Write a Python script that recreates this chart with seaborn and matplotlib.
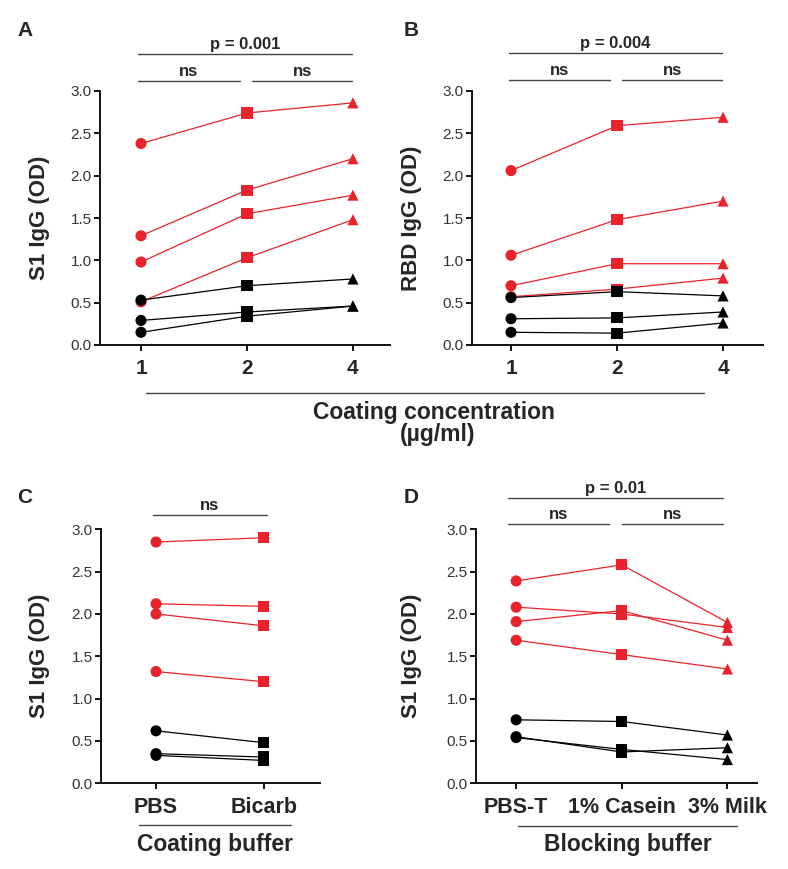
import matplotlib
matplotlib.use('Agg')
import matplotlib.pyplot as plt
from matplotlib.lines import Line2D
import pandas as pd
import seaborn as sns

# panel A: S1 IgG by coating concentration
conc = ['1', '2', '4']
a_red = [[2.38, 2.74, 2.86], [1.29, 1.83, 2.20], [0.98, 1.55, 1.77], [0.51, 1.03, 1.48]]
a_black = [[0.53, 0.70, 0.78], [0.29, 0.39, 0.46], [0.15, 0.34, 0.46]]

# panel B: RBD IgG by coating concentration
b_red = [[2.06, 2.59, 2.69], [1.06, 1.48, 1.70], [0.70, 0.96, 0.96], [0.57, 0.66, 0.79]]
b_black = [[0.56, 0.63, 0.58], [0.31, 0.32, 0.39], [0.15, 0.14, 0.26]]

# panel C: coating buffer
coat = ['PBS', 'Bicarb']
c_red = [[2.85, 2.90], [2.12, 2.09], [2.00, 1.86], [1.32, 1.20]]
c_black = [[0.62, 0.48], [0.35, 0.31], [0.33, 0.27]]

# panel D: blocking buffer
block = ['PBS-T', '1% Casein', '3% Milk']
d_red = [[2.39, 2.58, 1.90], [2.08, 2.00, 1.84], [1.91, 2.04, 1.69], [1.69, 1.52, 1.35]]
d_black = [[0.75, 0.73, 0.57], [0.54, 0.40, 0.28], [0.55, 0.37, 0.42]]

yticks = [0.0, 0.5, 1.0, 1.5, 2.0, 2.5, 3.0]
RED = '#e8232b'
BAR = '#444444'

sns.set_style('ticks')
plt.rcParams['font.family'] = ['Liberation Sans', 'DejaVu Sans']

W, H = 788, 869
fig = plt.figure(figsize=(W / 100, H / 100), dpi=100)


def rect(l, t, r, b):
    return [l / W, 1 - b / H, (r - l) / W, (b - t) / H]


def draw(ax, conds, red, black, markers, xlim, ylab, tick_fs, lab_x):
    for vals, color, tag in ((red, RED, 'pos'), (black, 'black', 'neg')):
        rows = [(f'{tag}{i}', j, c, v)
                for i, row in enumerate(vals)
                for j, (c, v) in enumerate(zip(conds, row))]
        df = pd.DataFrame(rows, columns=['subject', 'x', 'cond', 'od'])
        sns.lineplot(data=df, x='x', y='od', units='subject', estimator=None,
                     color=color, lw=0.9, legend=False, ax=ax)
        sns.scatterplot(data=df, x='x', y='od', style='cond',
                        markers=dict(zip(conds, markers)), color=color,
                        s=64, linewidth=0, legend=False, ax=ax, zorder=3)
    ax.set_xlim(*xlim)
    ax.set_ylim(0, 3.0)
    ax.set_yticks(yticks, [f'{t:.1f}' for t in yticks], fontsize=11, color='#333333')
    ax.set_xticks(range(len(conds)), conds, fontsize=tick_fs, fontweight='bold')
    ax.set_xlabel('')
    ax.set_ylabel(ylab, fontsize=16, fontweight='bold')
    ax.yaxis.set_label_coords(lab_x, 0.5)
    sns.despine(ax=ax)
    for s in ('left', 'bottom'):
        ax.spines[s].set_linewidth(1.4)
        ax.spines[s].set_color('#111111')
    ax.tick_params(axis='both', width=1.4, length=4, color='#111111')
    ax.tick_params(axis='x', pad=6)
    ax.tick_params(axis='y', pad=2)


def bracket(ax, x0, x1, yf, text):
    tr = ax.get_xaxis_transform()
    ax.plot([x0, x1], [yf, yf], transform=tr, color=BAR, lw=1.0, clip_on=False)
    ax.text((x0 + x1) / 2, yf + 0.008, text, transform=tr, ha='center', va='bottom',
            fontsize=12, fontweight='bold')


def group_label(ax, x0, x1, yf, text, ty):
    tr = ax.get_xaxis_transform()
    ax.plot([x0, x1], [yf, yf], transform=tr, color=BAR, lw=1.0, clip_on=False)
    ax.text((x0 + x1) / 2, ty, text, transform=tr, ha='center', va='center',
            fontsize=16.5, fontweight='bold')


mk3 = ['o', 's', '^']

axA = fig.add_axes(rect(100, 91, 390, 345))
draw(axA, conc, a_red, a_black, mk3, (-0.387, 2.35), 'S1 IgG (OD)', 15, -0.172)
bracket(axA, -0.03, 1.99, 1.146, 'p = 0.001')
bracket(axA, -0.03, 0.93, 1.039, 'ns')
bracket(axA, 1.05, 1.99, 1.039, 'ns')

axB = fig.add_axes(rect(472, 91, 763, 345))
draw(axB, conc, b_red, b_black, mk3, (-0.368, 2.377), 'RBD IgG (OD)', 15, -0.172)
bracket(axB, -0.02, 1.99, 1.15, 'p = 0.004')
bracket(axB, -0.02, 0.93, 1.043, 'ns')
bracket(axB, 1.05, 1.99, 1.043, 'ns')

axC = fig.add_axes(rect(101, 529.3, 320, 783.3))
draw(axC, coat, c_red, c_black, ['o', 's'], (-0.51, 1.52), 'S1 IgG (OD)', 15.5, -0.233)
bracket(axC, -0.03, 1.03, 1.056, 'ns')
group_label(axC, -0.16, 1.25, -0.164, 'Coating buffer', -0.242)

axD = fig.add_axes(rect(476, 529.3, 757, 783.3))
draw(axD, block, d_red, d_black, mk3, (-0.38, 2.28), 'S1 IgG (OD)', 15.5, -0.192)
bracket(axD, -0.08, 1.96, 1.123, 'p = 0.01')
bracket(axD, -0.08, 0.88, 1.022, 'ns')
bracket(axD, 1.0, 1.96, 1.022, 'ns')
group_label(axD, 0.02, 2.09, -0.168, 'Blocking buffer', -0.242)

# shared x label for A and B
fig.add_artist(Line2D([146 / W, 704 / W], [1 - 393 / H, 1 - 393 / H],
                      transform=fig.transFigure, color=BAR, lw=1.0))
fig.text(434 / W, 1 - 412 / H, 'Coating concentration', ha='center', va='center',
         fontsize=16.5, fontweight='bold')
fig.text(438 / W, 1 - 434 / H, '(µg/ml)', ha='center', va='center',
         fontsize=16.5, fontweight='bold')

for lab, x, y in (('A', 25, 30), ('B', 411, 30), ('C', 25, 497), ('D', 411, 497)):
    fig.text(x / W, 1 - y / H, lab, ha='center', va='center', fontsize=15, fontweight='bold')

fig.savefig('out.png', dpi=100)
